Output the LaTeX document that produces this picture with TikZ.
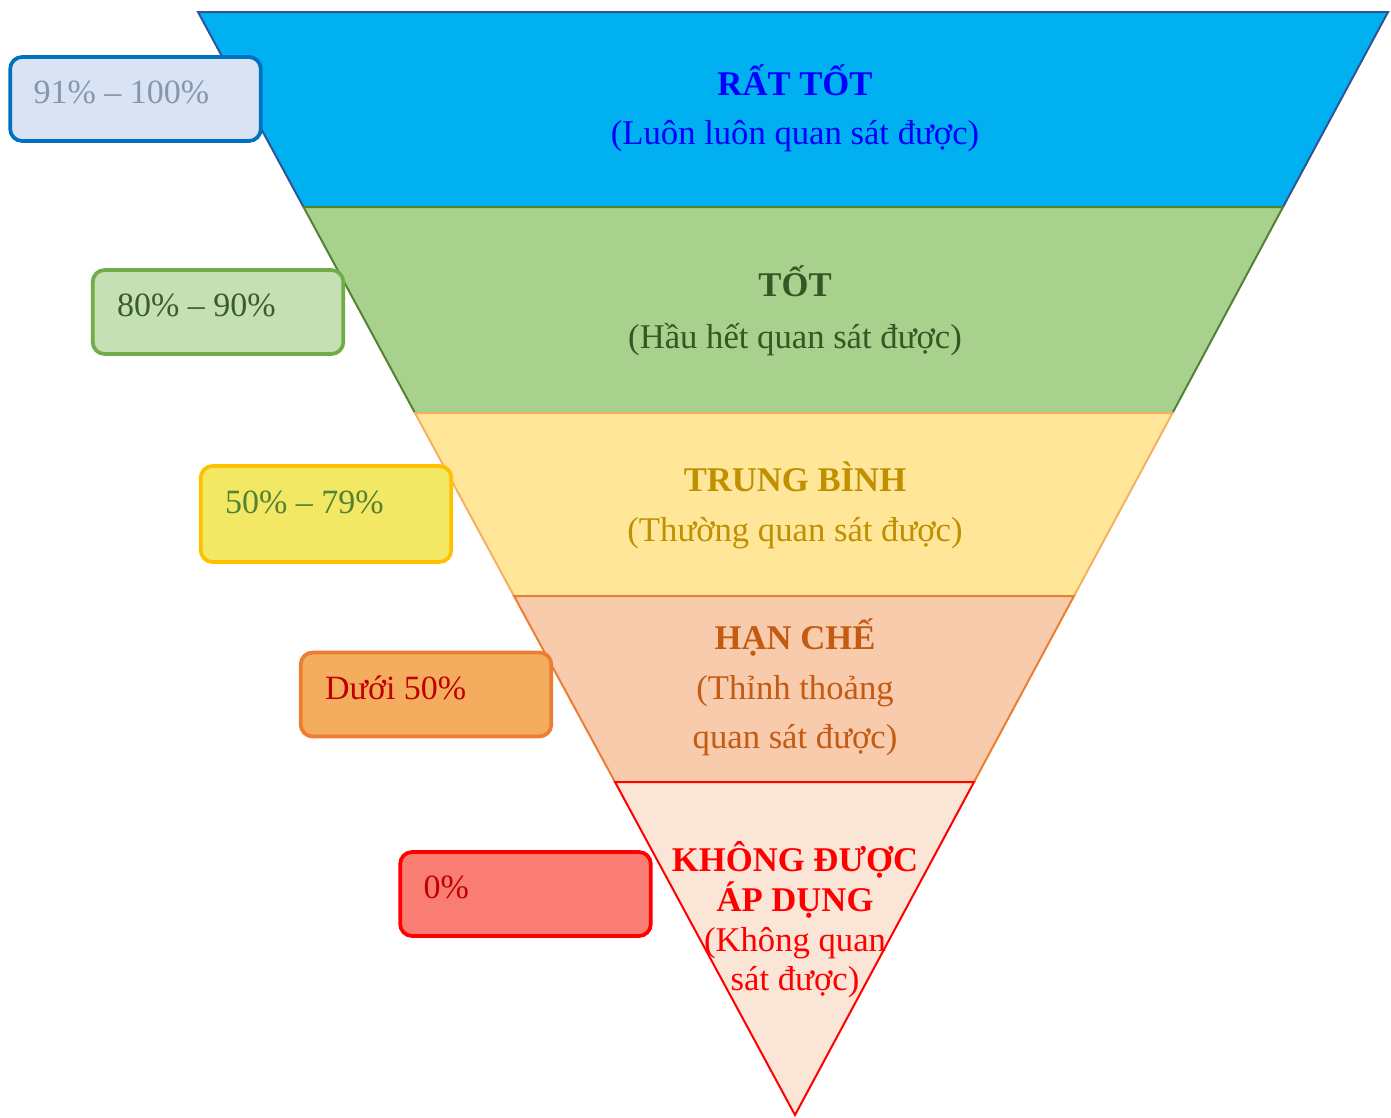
\documentclass[tikz,border=0pt]{standalone}
\usepackage{fontspec}
\setmainfont{Liberation Serif}
\usepackage{tikz}
\usetikzlibrary{calc}
\usetikzlibrary{positioning}

\definecolor{bandA}{HTML}{00B0F0}
\definecolor{edgeA}{HTML}{2F5597}
\definecolor{bandB}{HTML}{A9D18E}
\definecolor{edgeB}{HTML}{548235}
\definecolor{bandC}{HTML}{FFE699}
\definecolor{edgeC}{HTML}{F6B160}
\definecolor{bandD}{HTML}{F8CBAD}
\definecolor{edgeD}{HTML}{ED7D31}
\definecolor{bandE}{HTML}{FBE5D6}
\definecolor{edgeE}{HTML}{FF0000}
\definecolor{titleA}{HTML}{0000FF}
\definecolor{titleB}{HTML}{375623}
\definecolor{titleC}{HTML}{BF9000}
\definecolor{titleD}{HTML}{C55A11}
\definecolor{titleE}{HTML}{FF0000}

\begin{document}
\begin{tikzpicture}[x=0.75pt, y=-0.75pt,
    band/.style={line width=1.5pt, line join=miter},
    pctbox/.style={draw, rectangle, rounded corners=9pt, line width=2.8pt,
      minimum width=188pt, minimum height=63pt, inner sep=0pt},
    pcttext/.style={anchor=base west, inner sep=0pt, font=\fontsize{25.5}{30}\selectfont},
    title/.style={anchor=base, inner sep=0pt, font=\fontsize{26}{30}\selectfont\bfseries},
    sub/.style={anchor=base, inner sep=0pt, font=\fontsize{26}{30}\selectfont}]
  \useasboundingbox (0,0) rectangle (1391,1117);

  \filldraw[band, fill=bandA, draw=edgeA] (198,12) -- (1388,12) -- (1283,207) -- (303.5,207) -- cycle;
  \filldraw[band, fill=bandB, draw=edgeB] (303.5,207) -- (1283,207) -- (1172.5,413) -- (415,413) -- cycle;
  \filldraw[band, fill=bandC, draw=edgeC] (415,413) -- (1172.5,413) -- (1074,596) -- (514,596) -- cycle;
  \filldraw[band, fill=bandD, draw=edgeD] (514,596) -- (1074,596) -- (974,782) -- (615,782) -- cycle;
  \filldraw[band, fill=bandE, draw=edgeE] (615,782) -- (974,782) -- (795,1115) -- cycle;

  \node[title, text=titleA] (ratTot) at (795,95) {RẤT TỐT};
  \node[sub, text=titleA] (ratTotSub) at (795,144) {(Luôn luôn quan sát được)};
  \node[title, text=titleB] (tot) at (795,296) {TỐT};
  \node[sub, text=titleB] (totSub) at (795,348) {(Hầu hết quan sát được)};
  \node[title, text=titleC] (trungBinh) at (795,491) {TRUNG BÌNH};
  \node[sub, text=titleC] (trungBinhSub) at (795,541) {(Thường quan sát được)};
  \node[title, text=titleD] (hanChe) at (795,649) {HẠN CHẾ};
  \node[sub, text=titleD] (hanCheSub) at (795,699) {(Thỉnh thoảng};
  \node[sub, text=titleD] (hanCheSubB) at (795,748) {quan sát được)};
  \node[title, text=titleE] (khongDuoc) at (795,871) {KHÔNG ĐƯỢC};
  \node[title, text=titleE] (apDung) at (795,911) {ÁP DỤNG};
  \node[sub, text=titleE] (khongDuocSub) at (795,951) {(Không quan};
  \node[sub, text=titleE] (khongDuocSubB) at (795,990) {sát được)};

  \node[pctbox, fill={rgb,255:red,218;green,227;blue,243}, draw={rgb,255:red,0;green,112;blue,192}] (pctA) at (135.5,99) {};
  \node[pcttext, text={rgb,255:red,132;green,151;blue,176}] (pctAText) at ($(pctA.north west)+(25,48)$) {91\% -- 100\%};

  \node[pctbox, fill={rgb,255:red,197;green,224;blue,180}, draw={rgb,255:red,112;green,173;blue,71}] (pctB) at (218,312) {};
  \node[pcttext, text={rgb,255:red,58;green,94;blue,39}] (pctBText) at ($(pctB.north west)+(26,48)$) {80\% -- 90\%};

  \node[pctbox, minimum height=72pt, fill={rgb,255:red,243;green,232;blue,99}, draw={rgb,255:red,255;green,192;blue,0}] (pctC) at (326,514) {};
  \node[pcttext, text={rgb,255:red,84;green,130;blue,53}] (pctCText) at ($(pctC.north west)+(26,49)$) {50\% -- 79\%};

  \node[pctbox, fill={rgb,255:red,244;green,173;blue,95}, draw={rgb,255:red,237;green,125;blue,49}] (pctD) at (426,694.5) {};
  \node[pcttext, text={rgb,255:red,192;green,0;blue,0}] (pctDText) at ($(pctD.north west)+(26,49)$) {Dưới 50\%};

  \node[pctbox, fill={rgb,255:red,250;green,125;blue,116}, draw={rgb,255:red,255;green,0;blue,0}] (pctE) at (525.5,894) {};
  \node[pcttext, text={rgb,255:red,192;green,0;blue,0}] (pctEText) at ($(pctE.north west)+(25,48)$) {0\%};
\end{tikzpicture}
\end{document}
